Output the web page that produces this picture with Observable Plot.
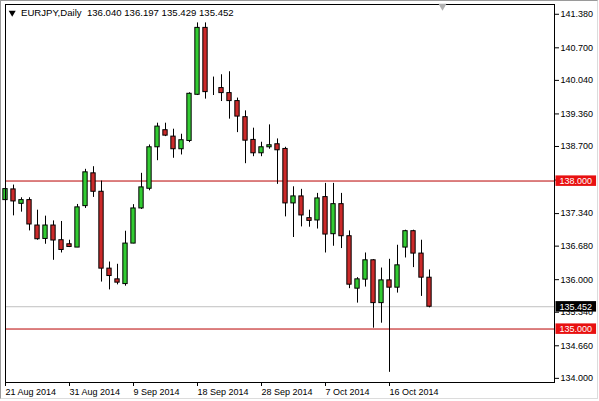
<!DOCTYPE html>
<html><head><meta charset="utf-8">
<script src="https://cdn.jsdelivr.net/npm/d3@7"></script>
<script src="https://cdn.jsdelivr.net/npm/@observablehq/plot@0.6"></script>
<style>
html,body{margin:0;padding:0;background:#fff;}
#wrap{position:relative;width:599px;height:401px;overflow:hidden;}
#border{position:absolute;left:0;top:0;width:596px;height:397px;border-top:1px solid #9a9a9a;border-left:1px solid #9a9a9a;border-right:1px solid #dcdcdc;border-bottom:1px solid #dcdcdc;pointer-events:none;}
svg{display:block;}
</style></head>
<body><div id="wrap"><div id="border"></div></div>
<script>
// ---- data ----
const symbol = "EURJPY";
const period = "Daily";
const dates = ["2014-08-21","2014-08-22","2014-08-24","2014-08-25","2014-08-26","2014-08-27","2014-08-28","2014-08-29","2014-08-31",
"2014-09-01","2014-09-02","2014-09-03","2014-09-04","2014-09-05","2014-09-07","2014-09-08","2014-09-09","2014-09-10","2014-09-11","2014-09-12",
"2014-09-14","2014-09-15","2014-09-16","2014-09-17","2014-09-18","2014-09-19","2014-09-21","2014-09-22","2014-09-23","2014-09-24","2014-09-25","2014-09-26",
"2014-09-28","2014-09-29","2014-09-30","2014-10-01","2014-10-02","2014-10-03","2014-10-05","2014-10-06","2014-10-07","2014-10-08","2014-10-09","2014-10-10",
"2014-10-12","2014-10-13","2014-10-14","2014-10-15","2014-10-16","2014-10-17","2014-10-19","2014-10-20","2014-10-21","2014-10-22"];
const open = [137.613,137.830,137.538,137.613,137.098,136.826,137.098,136.800,136.718,136.651,137.491,138.156,137.782,136.224,136.007,135.911,136.732,137.444,137.843,138.684,139.030,138.900,138.644,138.812,139.748,141.104,139.884,139.884,139.782,139.620,139.294,138.833,138.562,138.684,138.745,138.650,137.546,137.688,137.247,137.200,137.674,136.922,137.531,136.881,135.818,136.001,136.393,135.525,135.986,135.838,136.651,136.983,136.529,136.040];
const high = [137.958,137.918,137.660,137.660,137.409,137.288,137.192,137.180,136.800,137.525,138.237,138.290,137.999,136.358,136.312,136.982,137.521,138.156,138.731,139.172,139.172,139.050,138.948,139.788,141.205,141.205,140.107,140.154,140.215,139.681,139.422,139.071,138.786,139.138,138.853,138.684,137.883,137.831,137.409,137.749,137.952,137.952,137.749,136.989,136.041,136.541,136.407,136.236,136.413,136.698,137.003,137.003,136.800,136.197];
const low = [137.531,137.294,137.369,136.989,136.800,136.718,136.393,136.541,136.651,136.651,137.444,137.668,135.952,135.793,135.895,135.868,136.728,137.424,137.802,138.412,138.900,138.461,138.528,138.778,139.733,139.660,139.733,139.611,139.254,138.981,138.351,138.493,138.493,138.644,137.932,137.273,136.855,137.070,137.064,137.027,136.541,136.678,136.631,135.818,135.525,135.850,135.017,135.118,134.122,135.728,136.440,136.245,135.661,135.429];
const close = [137.836,137.586,137.613,137.119,136.820,137.098,136.794,136.602,136.663,137.466,138.176,137.782,136.224,136.074,135.940,136.732,137.444,137.871,138.684,139.103,138.920,138.644,138.827,139.768,141.104,139.802,139.884,139.782,139.620,139.306,138.818,138.562,138.684,138.725,138.623,137.546,137.688,137.302,137.192,137.647,136.915,137.531,136.881,135.899,136.007,136.393,135.525,135.986,135.838,136.291,136.983,136.529,136.041,135.452];
const xTickDates = ["2014-08-21","2014-08-31","2014-09-09","2014-09-18","2014-09-28","2014-10-07","2014-10-16"];
const xTickLabels = ["21 Aug 2014","31 Aug 2014","9 Sep 2014","18 Sep 2014","28 Sep 2014","7 Oct 2014","16 Oct 2014"];
const yTicks = [134.000,134.660,135.340,136.000,136.680,137.340,138.020,138.700,139.360,140.040,140.700,141.380];
const levels = [138.000, 135.000];
const lastPrice = close[close.length - 1];

// ---- build ----
const bars = dates.map((d, i) => ({i, date: d, open: open[i], high: high[i], low: low[i], close: close[i]}));
const tickIdx = xTickDates.map(d => dates.indexOf(d));
const last = bars[bars.length - 1];
const titleText = `${symbol},${period}\u00a0\u00a0${last.open.toFixed(3)} ${last.high.toFixed(3)} ${last.low.toFixed(3)} ${last.close.toFixed(3)}`;
const bullFill = "#33cc33", bearFill = "#cc2a2a";
const halfW = 0.27;

const chart = Plot.plot({
  width: 599, height: 401,
  marginTop: 4, marginBottom: 19, marginLeft: 5, marginRight: 45,
  style: {fontFamily: "'Liberation Sans', Arial, sans-serif", fontSize: "9px", color: "#000", background: "transparent", overflow: "visible"},
  x: {type: "linear", domain: [0, 68.625]},
  y: {domain: [133.916, 141.578]},
  marks: [
    Plot.axisY({anchor: "right", ticks: yTicks, tickFormat: d => d.toFixed(3), tickSize: 4, tickPadding: 2, label: null, stroke: "#000", fill: "#000"}),
    Plot.axisX({ticks: tickIdx, tickFormat: i => xTickLabels[tickIdx.indexOf(i)], tickSize: 4, tickPadding: 2, textAnchor: "start", label: null, stroke: "#000", fill: "#000"}),
    Plot.ruleY([lastPrice], {stroke: "#c0c0c0", strokeWidth: 1}),
    Plot.ruleY(levels, {stroke: "#b80000", strokeWidth: 1}),
    Plot.ruleX(bars, {x: "i", y1: "low", y2: "high", stroke: "#000", strokeWidth: 1}),
    Plot.rect(bars, {x1: d => d.i - halfW, x2: d => d.i + halfW, y1: "open", y2: "close",
      fill: d => d.close >= d.open ? bullFill : bearFill, stroke: "#000", strokeWidth: 1}),
    Plot.frame({stroke: "#000"}),
    Plot.text([titleText], {frameAnchor: "top-left", dx: 15.5, dy: 5, textAnchor: "start", lineAnchor: "top", fontSize: 9.6, fill: "#000"}),
    Plot.dot([0], {frameAnchor: "top-left", dx: 6.7, dy: 8.3, symbol: "triangle", r: 2.6, rotate: 180, fill: "#000", stroke: null}),
    Plot.dot([0], {frameAnchor: "top-right", dx: -112, dy: 1.5, symbol: "triangle", r: 3, rotate: 180, fill: "#b0b0b0", stroke: null}),
    Plot.text(levels, {y: d => d, frameAnchor: "right", dx: 5, textAnchor: "start", fill: "#fff", text: d => d.toFixed(3), ariaDescription: "lvl-red"}),
    Plot.text([lastPrice], {y: d => d, frameAnchor: "right", dx: 5, textAnchor: "start", fill: "#fff", text: d => d.toFixed(3), ariaDescription: "lvl-black"})
  ]
});
document.getElementById("wrap").appendChild(chart);

// background boxes behind the price labels on the right scale
function boxes(desc, color) {
  chart.querySelectorAll(`g[aria-description="${desc}"] text`).forEach(t => {
    const b = t.getBBox();
    const r = document.createElementNS("http://www.w3.org/2000/svg", "rect");
    r.setAttribute("x", b.x - 4);
    r.setAttribute("y", b.y - 0.5);
    r.setAttribute("width", b.width + 8);
    r.setAttribute("height", b.height + 0.5);
    r.setAttribute("fill", color);
    const tr = t.getAttribute("transform");
    if (tr) r.setAttribute("transform", tr);
    t.parentNode.insertBefore(r, t);
  });
}
boxes("lvl-red", "#e81010");
boxes("lvl-black", "#000");
</script>
</body></html>
